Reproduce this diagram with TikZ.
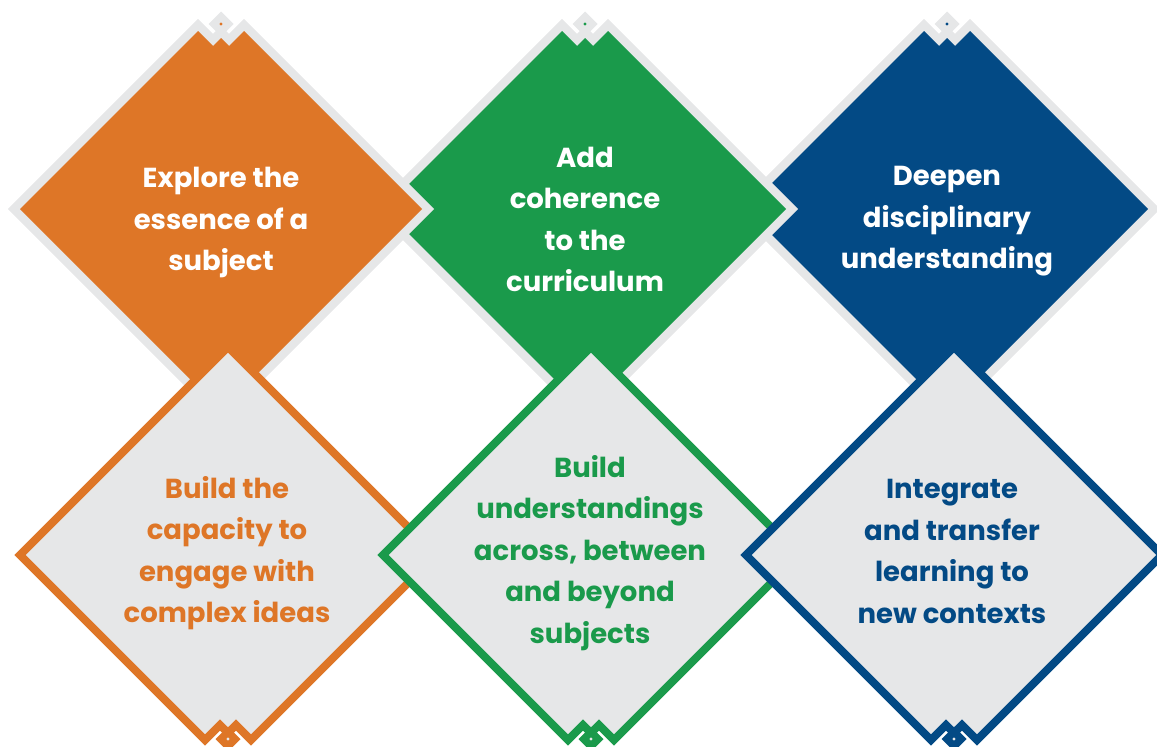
\documentclass[tikz,border=0pt]{standalone}
\usepackage{fontspec}
\setmainfont{Poppins}
\usetikzlibrary{calc,positioning}
\definecolor{gemorange}{HTML}{DE7627}
\definecolor{gemgreen}{HTML}{1A9A4B}
\definecolor{gemblue}{HTML}{034A85}
\definecolor{gemgray}{HTML}{E6E7E8}
% filled diamond with a light border and a notch at the top
\newcommand{\topgem}[4]{%
  \begin{scope}[shift={(#2,#3)}]
    \coordinate (#1) at (0,0);
    \path[preaction={draw=gemgray,line width=17pt,line join=miter},fill=#4]
      (-201,0) -- (-23,-178) -- (-8,-163) -- (0,-171) -- (8,-163) -- (23,-178) -- (201,0) -- (0,201) -- cycle;
    \fill[gemgray] (-12.5,-185) -- (0,-197.5) -- (12.5,-185) -- (0,-172.5) -- cycle;
    \fill[#4] (0,-185) circle[radius=1.6];
  \end{scope}}
% light diamond with a coloured border and a notch at the bottom
\newcommand{\botgem}[4]{%
  \begin{scope}[shift={(#2,#3)}]
    \coordinate (#1) at (0,0);
    \path[draw=#4,line width=8pt,line join=miter,fill=gemgray]
      (-208,0) -- (0,-208) -- (208,0) -- (23,185) -- (8,170) -- (0,178) -- (-8,170) -- (-23,185) -- cycle;
    \fill[#4] (-12.5,184) -- (0,171.5) -- (12.5,184) -- (0,196.5) -- cycle;
    \fill[gemgray] (0,184) circle[radius=1.6];
  \end{scope}}

\begin{document}
\begin{tikzpicture}[x=1pt,y=-1pt,
    toplabel/.style={text=white,font=\bfseries\fontsize{27.5}{41.5}\selectfont,align=center,inner sep=0pt},
    botlabel/.style={text=#1,font=\bfseries\fontsize{27.5}{41.5}\selectfont,align=center,inner sep=0pt}]
    \useasboundingbox (0,0) rectangle (1157,747);

    \topgem{gb}{947}{209}{gemblue}
    \topgem{gg}{585}{209}{gemgreen}
    \topgem{go}{221}{209}{gemorange}

    \botgem{bo}{228}{555}{gemorange}
    \botgem{bg}{591}{555}{gemgreen}
    \botgem{bb}{954}{555}{gemblue}

    \node[toplabel] (lo) at ($(go)+(0,13.5)$) {Explore the\\essence of a\\subject};
    \node[toplabel] (lg) at ($(gg)+(0,10.5)$) {Add\\coherence\\to the\\curriculum};
    \node[toplabel] (lb) at ($(gb)+(0,12.5)$) {Deepen\\disciplinary\\understanding};

    \node[botlabel=gemorange] (mo) at ($(bo)+(-1,-2)$) {Build the\\capacity to\\engage with\\complex ideas};
    \node[botlabel=gemgreen] (mg) at ($(bg)+(-1,-2)$) {Build\\understandings\\across, between\\and beyond\\subjects};
    \node[botlabel=gemblue] (mb) at ($(bb)+(-2,-3.5)$) {Integrate\\and transfer\\learning to\\new contexts};
\end{tikzpicture}
\end{document}
